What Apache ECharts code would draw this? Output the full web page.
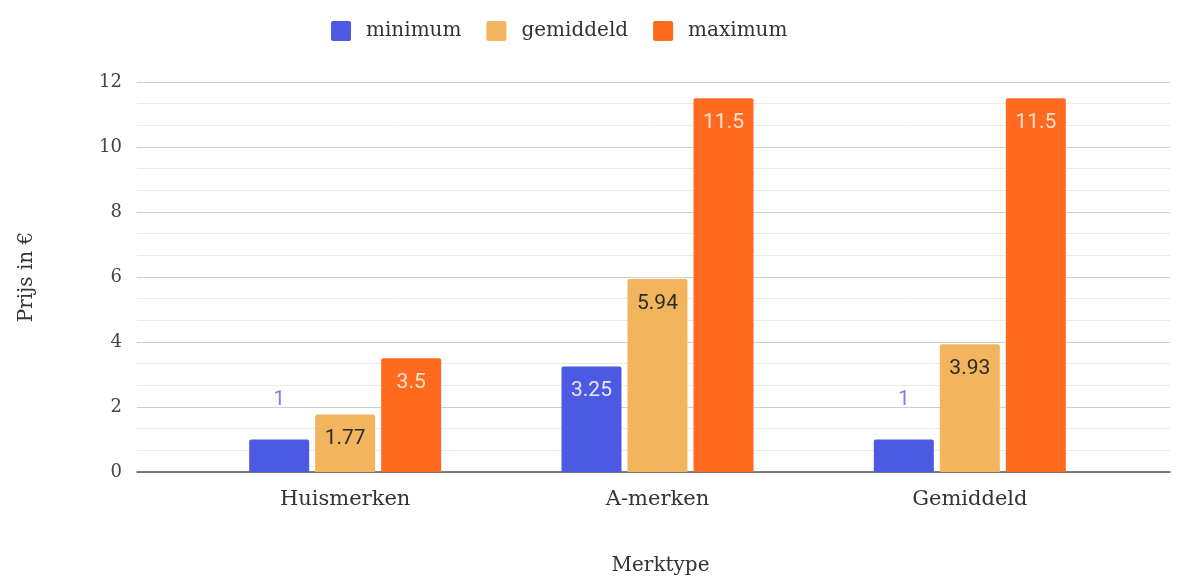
<!DOCTYPE html>
<html><head><meta charset="utf-8">
<script src="https://cdn.jsdelivr.net/npm/echarts@6/dist/echarts.min.js"></script>
<style>html,body{margin:0;padding:0;background:#fff}#c{width:1180px;height:581px}</style>
</head><body><div id="c"></div>
<script>
const categories = ['Huismerken', 'A-merken', 'Gemiddeld'];
const minimum = [1, 3.25, 1];
const gemiddeld = [1.77, 5.94, 3.93];
const maximum = [3.5, 11.5, 11.5];
const seriesNames = ['minimum', 'gemiddeld', 'maximum'];
const yTicks = [0, 2, 4, 6, 8, 10, 12];

const colors = ['#4c59e3', '#f2b55d', '#ff6a1e'];
const insideColors = ['#e6e8ff', '#2b2b2b', '#ffe2d0'];
const serif = '"DejaVu Serif", serif';
const sans = 'Roboto, "Liberation Sans", sans-serif';

function mkData(vals, idx) {
  return vals.map(v => {
    if (v < 1.5) {
      return { value: v, label: { position: 'top', distance: 29, color: '#7a82ea' } };
    }
    return { value: v, label: { position: 'insideTop', distance: 14, color: insideColors[idx] } };
  });
}

const chart = echarts.init(document.getElementById('c'), null, { renderer: 'canvas' });
chart.setOption({
  animation: false,
  color: colors,
  legend: {
    top: 16, left: 326, itemWidth: 20, itemHeight: 20, itemGap: 25,
    icon: 'path://M2,0 L18,0 Q20,0 20,2 L20,18 Q20,20 18,20 L2,20 Q0,20 0,18 L0,2 Q0,0 2,0 Z',
    textStyle: { fontFamily: serif, fontSize: 20, color: '#333', padding: [0, 0, 0, 10] },
    data: seriesNames
  },
  grid: [
    { left: 137, right: 10, top: 82, bottom: 109 },
    { left: 189, right: 54, top: 82, bottom: 109 }
  ],
  xAxis: [
    { gridIndex: 0, type: 'value', min: 0, max: 1, axisLabel: { show: false }, axisTick: { show: false },
      splitLine: { show: false }, axisLine: { show: true, lineStyle: { color: '#555', width: 1.5 } },
      name: 'Merktype', nameLocation: 'middle', nameGap: 84,
      nameTextStyle: { fontFamily: serif, fontSize: 20, color: '#333', padding: [0, 0, 0, 14] } },
    { gridIndex: 1, type: 'category', data: categories, axisLine: { show: false }, axisTick: { show: false },
      axisLabel: { margin: 17, fontFamily: serif, fontSize: 21, color: '#333' } }
  ],
  yAxis: [
    { gridIndex: 0, type: 'value', min: 0, max: 12, interval: 2,
      axisLine: { show: false }, axisTick: { show: false },
      axisLabel: { margin: 15, fontFamily: serif, fontSize: 18, color: '#444',
        formatter: v => yTicks.includes(v) ? String(v) : '' },
      splitLine: { lineStyle: { color: '#cfcfcf', width: 1.2 } },
      minorTick: { show: false, splitNumber: 3 },
      minorSplitLine: { show: true, lineStyle: { color: '#e9e9e9', width: 1 } },
      name: 'Prijs in €', nameLocation: 'middle', nameGap: 100,
      nameTextStyle: { fontFamily: serif, fontSize: 20, color: '#333' } },
    { gridIndex: 1, type: 'value', min: 0, max: 12, interval: 2, show: false, splitLine: { show: false } }
  ],
  series: [minimum, gemiddeld, maximum].map((vals, i) => ({
    name: seriesNames[i], type: 'bar', xAxisIndex: 1, yAxisIndex: 1,
    barWidth: 60, barGap: '10%',
    itemStyle: { color: colors[i], borderRadius: [2, 2, 0, 0] },
    label: { show: true, fontFamily: sans, fontSize: 21 },
    data: mkData(vals, i)
  }))
});
</script></body></html>
